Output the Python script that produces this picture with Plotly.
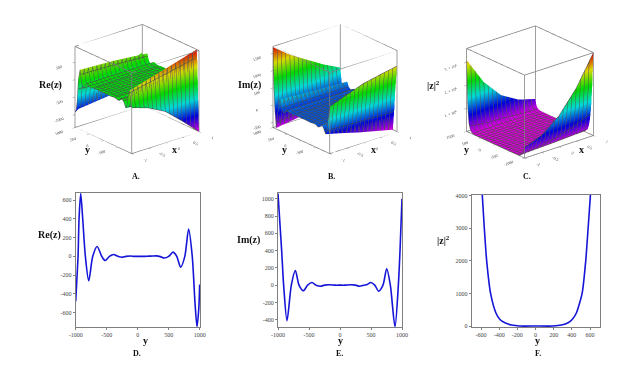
import plotly.graph_objects as go

X_VALUES = [-1, -0.5, 0, 0.5, 1]

# Re(z): y rows and one column of heights per x value
RE_Y = [-1000,-980,-962,-946,-919,-887,-844,-790,-725,-655,-580,-525,-455,-390,-320,-256,-190,-121,-60,0,60,120,180,240,300,365,430,500,570,630,693,760,822,880,925,957,985,1000]
RE_XM1 = [-57,-20,60,240,400,260,0,-150,0,65,0,-28,0,13,0,-6,0,2,0,0,0,0,2,3,7,-4,-26,0,60,0,-150,0,347,50,-600,-850,-900,-940]
RE_XM05 = [-220,-100,30,320,540,330,0,-200,0,85,0,-36,0,16,0,-8,0,2,0,0,0,0,2,3,6,-3,-22,0,52,0,-130,0,320,20,-550,-800,-700,-620]
RE_X0 = [-480,-230,0,400,670,400,0,-260,0,105,0,-45,0,20,0,-10,0,3,0,0,0,0,2,3,5,-3,-18,0,45,0,-115,0,290,0,-500,-750,-560,-300]
RE_X05 = [-910,-480,-40,480,810,470,0,-310,0,125,0,-54,0,24,0,-12,0,3,0,0,0,0,2,3,4,-2,-14,0,38,0,-100,0,240,-10,-440,-650,-350,-50]
RE_X1 = [-1370,-750,-100,560,950,540,0,-360,0,145,0,-62,0,28,0,-14,0,4,0,0,0,0,2,3,3,-2,-10,0,30,0,-85,0,186,-20,-380,-550,-150,150]

# Im(z)
IM_Y = [-1000,-941,-909,-855,-785,-720,-661,-591,-522,-452,-385,-317,-250,-170,-80,0,80,170,250,317,385,440,495,560,624,693,753,812,887,941,968,1000]
IM_XM1 = [713,270,0,-140,0,90,0,-35,0,16,0,-6,0,3,0,0,0,6,0,-15,0,10,40,0,-95,0,250,0,-620,0,600,1680]
IM_XM05 = [890,340,0,-270,0,130,0,-50,0,23,0,-9,0,4,0,0,0,6,0,-13,0,9,35,0,-82,0,220,0,-550,0,500,1300]
IM_X0 = [1060,400,0,-410,0,170,0,-65,0,30,0,-12,0,5,0,0,0,5,0,-12,0,8,30,0,-70,0,190,0,-480,0,400,1000]
IM_X05 = [1160,470,0,-530,0,205,0,-78,0,36,0,-14,0,6,0,0,0,4,0,-10,0,7,25,0,-58,0,165,0,-420,0,300,700]
IM_X1 = [1250,530,0,-650,0,240,0,-90,0,42,0,-17,0,7,0,0,0,4,0,-8,0,6,20,0,-48,0,135,0,-360,0,220,450]

# |z|^2
ABS_Y = [-1000,-960,-920,-880,-840,-800,-720,-640,-560,-400,-200,0,200,400,560,640,720,800,840,880,920,960,1000]
ABS_XM1 = [470000,250000,130000,70000,35000,18000,5000,1000,300,40,0,0,0,80,500,2000,9000,35000,80000,180000,400000,1100000,3100000]
ABS_XM05 = [750000,450000,250000,130000,70000,35000,8000,2000,500,50,0,0,0,70,500,1500,6000,30000,60000,120000,260000,650000,1900000]
ABS_X0 = [1350000,800000,450000,240000,120000,60000,14000,4000,1000,60,0,0,0,60,1000,3000,10000,40000,70000,110000,200000,450000,1090000]
ABS_X05 = [2300000,1300000,750000,400000,200000,100000,22000,6000,1500,70,0,0,0,50,700,1800,6000,22000,40000,70000,120000,250000,650000]
ABS_X1 = [3600000,2100000,1150000,620000,320000,160000,35000,10000,2000,80,0,0,0,40,300,1000,4000,15000,25000,45000,80000,170000,430000]

# plot F, |z|^2 against y near the origin
F_Y = [-640,-586,-564,-538,-495,-436,-392,-337,-264,-172,0,194,286,359,403,450,513,553,579,604,650]
F_Z = [6500,4000,3000,2000,1000,400,200,100,30,0,0,0,30,100,200,400,1000,2000,3000,4000,6500]

HUE = [[0,"#ff00ff"],[0.2,"#0000ff"],[0.4,"#00ffff"],[0.6,"#00ff00"],[0.8,"#ffff00"],[1,"#ff0000"]]
W, H = 634, 368
GREY = "#7f7f7f"
TICK_FONT = dict(family="Liberation Serif", size=6, color="#444444")
TICK_FONT_3D = dict(family="Liberation Serif", size=7, color="#444444")

fig = go.Figure()


def surface(name, ys, cols, rng, scene):
    z = [list(r) for r in zip(*cols)]
    fig.add_trace(go.Surface(
        x=X_VALUES, y=ys, z=z, name=name, scene=scene, showscale=False,
        colorscale=HUE, cmin=rng[0], cmax=rng[1], hoverinfo="skip",
        lighting=dict(ambient=0.85, diffuse=0.35, specular=0.0, roughness=1),
        lightposition=dict(x=-500, y=-1000, z=3000),
        contours=dict(
            x=dict(show=True, start=-1, end=1, size=2/16, color="#555555", width=1, highlight=False),
            y=dict(show=True, start=-1000, end=1000, size=2000/20, color="#444444", width=1, highlight=False),
            z=dict(highlight=False),
        ),
    ))
    # the twelve edges of the box, taken from the axis ranges
    x0, x1, y0, y1, z0, z1 = -1, 1, -1000, 1000, rng[0], rng[1]
    path = [(x0,y0,z0),(x1,y0,z0),(x1,y1,z0),(x0,y1,z0),(x0,y0,z0),(x0,y0,z1),(x1,y0,z1),(x1,y1,z1),(x0,y1,z1),(x0,y0,z1),
            (None,None,None),(x1,y0,z0),(x1,y0,z1),(None,None,None),(x1,y1,z0),(x1,y1,z1),(None,None,None),(x0,y1,z0),(x0,y1,z1)]
    fig.add_trace(go.Scatter3d(x=[p[0] for p in path], y=[p[1] for p in path], z=[p[2] for p in path],
                               mode="lines", scene=scene, line=dict(color=GREY, width=1.5), hoverinfo="skip"))


def scene_layout(cx, cy, side, R, zrng, zticks, ztext, yticks):
    ax = dict(showbackground=False, showgrid=False, zeroline=False, showline=False,
              ticks="outside", ticklen=3,
              tickcolor=GREY, tickfont=TICK_FONT_3D, title=dict(text=""), showspikes=False)
    return dict(
        domain=dict(x=[(cx-side/2)/W, (cx+side/2)/W], y=[1-(cy+side/2)/H, 1-(cy-side/2)/H]),
        xaxis=dict(ax, range=[-1, 1], tickvals=[-1, -0.5, 0, 0.5, 1], ticktext=["-1", "-0.5", "0", "0.5", "1"]),
        yaxis=dict(ax, range=[-1000, 1000], tickvals=yticks, ticktext=[str(v) for v in yticks]),
        zaxis=dict(ax, range=zrng, tickvals=zticks, ticktext=ztext),
        aspectmode="manual", aspectratio=dict(x=1, y=1, z=1),
        camera=dict(eye=dict(x=-0.594*R, y=-0.704*R, z=0.388*R), up=dict(x=0, y=0, z=1),
                    center=dict(x=0, y=0, z=0), projection=dict(type="orthographic")),
        bgcolor="white",
    )


surface("Re(z)", RE_Y, [RE_XM1, RE_XM05, RE_X0, RE_X05, RE_X1], [-1370, 950], "scene")
surface("Im(z)", IM_Y, [IM_XM1, IM_XM05, IM_X0, IM_X05, IM_X1], [-650, 1700], "scene2")
surface("|z|^2", ABS_Y, [ABS_XM1, ABS_XM05, ABS_X0, ABS_X05, ABS_X1], [0, 3600000], "scene3")

fig.add_trace(go.Scatter(x=RE_Y, y=RE_X0, xaxis="x", yaxis="y", mode="lines",
                         line=dict(color="#1515d8", width=1.6, shape="spline", smoothing=0.8), hoverinfo="skip"))
fig.add_trace(go.Scatter(x=IM_Y, y=IM_X0, xaxis="x2", yaxis="y2", mode="lines",
                         line=dict(color="#1515d8", width=1.6, shape="spline", smoothing=0.8), hoverinfo="skip"))
fig.add_trace(go.Scatter(x=F_Y, y=F_Z, xaxis="x3", yaxis="y3", mode="lines",
                         line=dict(color="#1515d8", width=1.6, shape="spline", smoothing=0.6), hoverinfo="skip"))


def axis2d(px0, px1, rng, ticks, horizontal):
    dom = [px0/W, px1/W] if horizontal else [1-px1/H, 1-px0/H]
    return dict(domain=dom, range=rng, tickvals=ticks, ticktext=[str(t) for t in ticks],
                showgrid=False, zeroline=False, showline=True, mirror=True, linecolor=GREY,
                linewidth=1, ticks="outside", ticklen=2, tickcolor=GREY, tickfont=TICK_FONT)


def lab(txt, x, y, size=10):
    return dict(text=txt, x=x/W, y=1-y/H, xref="paper", yref="paper", showarrow=False,
                font=dict(family="Liberation Serif", size=size, color="#111111"),
                xanchor="center", yanchor="middle")


anns = [
    lab("<b>Re(z)</b>", 50, 85), lab("<b>y</b>", 87, 150), lab("<b>x</b>", 174, 150), lab("<b>A.</b>", 136, 176, 8),
    lab("<b>Im(z)</b>", 249, 85), lab("<b>y</b>", 284, 150), lab("<b>x</b>", 373, 150), lab("<b>B.</b>", 331, 176, 8),
    lab("<b>|z|<sup>2</sup></b>", 433, 85), lab("<b>y</b>", 466, 150), lab("<b>x</b>", 581, 150), lab("<b>C.</b>", 527, 176, 8),
    lab("<b>Re(z)</b>", 49, 235), lab("<b>y</b>", 145, 340), lab("<b>D.</b>", 137, 353, 8),
    lab("<b>Im(z)</b>", 248, 240), lab("<b>y</b>", 340, 340), lab("<b>E.</b>", 339, 353, 8),
    lab("<b>|z|<sup>2</sup></b>", 443, 240), lab("<b>y</b>", 537, 340), lab("<b>F.</b>", 538, 353, 8),
]

Z3_TEXT = ["1. × 10<sup>6</sup>", "2. × 10<sup>6</sup>", "3. × 10<sup>6</sup>"]
fig.update_layout(
    width=W, height=H, margin=dict(l=0, r=0, t=0, b=0, pad=0, autoexpand=False), paper_bgcolor="white", plot_bgcolor="white",
    showlegend=False, annotations=anns,
    scene=scene_layout(136.5, 89, 176, 2.18, [-1370, 950], [-1000, -500, 0, 500], ["-1000", "-500", "0", "500"], [-500, 0, 500, 1000]),
    scene2=scene_layout(334.5, 89, 176, 2.18, [-650, 1700], [-500, 0, 500, 1000, 1500], ["-500", "0", "500", "1000", "1500"], [-500, 0, 500, 1000]),
    scene3=scene_layout(530, 92, 180, 2.05, [0, 3600000], [1000000, 2000000, 3000000], Z3_TEXT, [-1000, -500, 0, 500, 1000]),
    xaxis=dict(axis2d(75.7, 200, [-1000, 1005], [-1000, -500, 0, 500, 1000], True), anchor="y"),
    yaxis=dict(axis2d(193, 327, [-753, 675], [-600, -400, -200, 0, 200, 400, 600], False), anchor="x"),
    xaxis2=dict(axis2d(278, 402, [-1000, 1000], [-1000, -500, 0, 500, 1000], True), anchor="y2"),
    yaxis2=dict(axis2d(193, 327, [-484, 1066], [-400, -200, 0, 200, 400, 600, 800, 1000], False), anchor="x2"),
    xaxis3=dict(axis2d(471.7, 600, [-703, 710], [-600, -400, -200, 0, 200, 400, 600], True), anchor="y3"),
    yaxis3=dict(axis2d(195, 327, [-30, 4020], [0, 1000, 2000, 3000, 4000], False), anchor="x3"),
)
fig.write_html("out.html", config=dict(displayModeBar=False), post_script="document.body.style.margin='0';")
